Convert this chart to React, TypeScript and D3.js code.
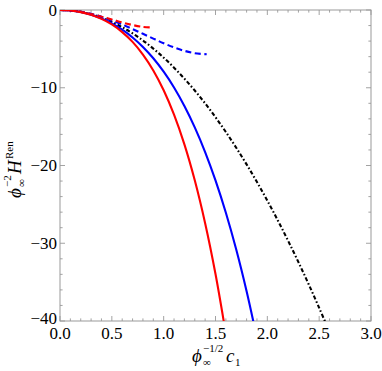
import React from 'react';
import * as d3 from 'd3';

// x grid shared by the curves (phi^-1/2 c1)
const xs = [0, 0.1, 0.2, 0.3, 0.4, 0.5, 0.6, 0.7, 0.8, 0.9, 1.0, 1.1, 1.2, 1.3, 1.4, 1.5, 1.6, 1.7, 1.8, 1.9, 2.0, 2.1, 2.2, 2.3, 2.4, 2.5, 2.6];

const redSolid = [0, -0.065, -0.27, -0.62, -1.14, -1.86, -2.84, -4.1, -5.73, -7.77, -10.32, -13.46, -17.28, -21.9, -27.42, -33.96, -41.67];
const blueSolid = [0, -0.065, -0.26, -0.6, -1.08, -1.72, -2.53, -3.53, -4.75, -6.21, -7.94, -9.97, -12.35, -15.1, -18.27, -21.92, -26.08, -30.81, -36.18, -42.23];
const blackDotDash = [0, -0.061, -0.245, -0.552, -0.98, -1.53, -2.21, -3.0, -3.92, -4.97, -6.13, -7.42, -8.83, -10.36, -12.01, -13.79, -15.69, -17.72, -19.86, -22.13, -24.52, -27.03, -29.67, -32.43, -35.31, -38.31, -41.44];
const redDashedX = [0, 0.1, 0.2, 0.3, 0.4, 0.5, 0.6, 0.7, 0.8, 0.868];
const redDashed = [0, -0.06, -0.234, -0.51, -0.86, -1.22, -1.6, -1.93, -2.17, -2.23];
const blueDashedX = [0, 0.1, 0.2, 0.3, 0.4, 0.5, 0.6, 0.7, 0.8, 0.9, 1.0, 1.1, 1.2, 1.3, 1.415];
const blueDashed = [0, -0.057, -0.226, -0.5, -0.88, -1.34, -1.87, -2.45, -3.06, -3.68, -4.28, -4.81, -5.25, -5.56, -5.7];

const xMajor = [0, 0.5, 1.0, 1.5, 2.0, 2.5, 3.0];
const yMajor = [0, -10, -20, -30, -40];

const W = 382;
const H = 371;
const margin = { top: 10, right: 11, bottom: 50, left: 60 };
const FONT = 'Liberation Serif';

export default function App() {
  const x = d3.scaleLinear().domain([0, 3]).range([margin.left, W - margin.right]);
  const y = d3.scaleLinear().domain([-40, 0]).range([H - margin.bottom, margin.top]);

  const line = d3.line<[number, number]>()
    .x(d => x(d[0]))
    .y(d => y(d[1]))
    .curve(d3.curveCatmullRom);

  const zip = (a: number[], b: number[]) => b.map((v, i) => [a[i], v] as [number, number]);

  const series = [
    { pts: zip(xs, blackDotDash), color: '#000', dash: '4,2.2,1.6,2.2' },
    { pts: zip(blueDashedX, blueDashed), color: '#0000ff', dash: '6,3.5' },
    { pts: zip(redDashedX, redDashed), color: '#ff0000', dash: '6,3.5' },
    { pts: zip(xs, blueSolid), color: '#0000ff', dash: null },
    { pts: zip(xs, redSolid), color: '#ff0000', dash: null },
  ];

  const xMinor = d3.range(0, 31).map(i => i / 10).filter(v => !xMajor.some(m => Math.abs(m - v) < 1e-9));
  const yMinor = d3.range(-40, 1, 2).filter(v => v % 10 !== 0);

  const x0 = margin.left;
  const x1 = W - margin.right;
  const y0 = H - margin.bottom;
  const y1 = margin.top;
  const tickColor = '#999';
  const majLen = 5;
  const minLen = 2.6;

  return (
    <svg width={W} height={H} style={{ position: 'absolute', left: 0, top: 0 }} fontFamily={FONT}>
      <defs>
        <clipPath id="plot">
          <rect x={x0} y={y1} width={x1 - x0} height={y0 - y1} />
        </clipPath>
      </defs>

      {/* frame */}
      <rect x={x0} y={y1} width={x1 - x0} height={y0 - y1} fill="none" stroke={tickColor} strokeWidth={1} />

      {/* ticks, inward on all four sides */}
      <g stroke={tickColor} strokeWidth={0.9}>
        {xMajor.map(v => (
          <g key={'xM' + v}>
            <line x1={x(v)} x2={x(v)} y1={y0} y2={y0 - majLen} />
            <line x1={x(v)} x2={x(v)} y1={y1} y2={y1 + majLen} />
          </g>
        ))}
        {xMinor.map(v => (
          <g key={'xm' + v}>
            <line x1={x(v)} x2={x(v)} y1={y0} y2={y0 - minLen} />
            <line x1={x(v)} x2={x(v)} y1={y1} y2={y1 + minLen} />
          </g>
        ))}
        {yMajor.map(v => (
          <g key={'yM' + v}>
            <line x1={x0} x2={x0 + majLen} y1={y(v)} y2={y(v)} />
            <line x1={x1} x2={x1 - majLen} y1={y(v)} y2={y(v)} />
          </g>
        ))}
        {yMinor.map(v => (
          <g key={'ym' + v}>
            <line x1={x0} x2={x0 + minLen} y1={y(v)} y2={y(v)} />
            <line x1={x1} x2={x1 - minLen} y1={y(v)} y2={y(v)} />
          </g>
        ))}
      </g>

      {/* curves */}
      <g clipPath="url(#plot)" fill="none">
        {series.map((s, i) => (
          <path key={i} d={line(s.pts) || ''} stroke={s.color} strokeWidth={2.1}
            strokeDasharray={s.dash || undefined} />
        ))}
      </g>

      {/* tick labels */}
      <g fontSize={17} fill="#000" fontFamily={FONT}>
        {xMajor.map(v => (
          <text key={'xl' + v} x={x(v)} y={y0 + 18} textAnchor="middle">{v.toFixed(1)}</text>
        ))}
        {yMajor.map(v => (
          <text key={'yl' + v} x={x0 - 3} y={y(v) + (v === -40 ? 3 : 5.5)} textAnchor="end">
            {v === 0 ? '0' : '\u2212' + Math.abs(v)}
          </text>
        ))}
      </g>

      {/* x axis label */}
      <g fill="#000" fontFamily={FONT}>
        <text x={192} y={362} fontSize={19} fontStyle="italic">ϕ</text>
        <text x={203} y={366} fontSize={11}>∞</text>
        <text x={203} y={352} fontSize={11}>−1/2</text>
        <text x={226} y={362} fontSize={19} fontStyle="italic">c</text>
        <text x={235} y={366} fontSize={11}>1</text>
      </g>

      {/* y axis label */}
      <g fill="#000" fontFamily={FONT} transform="translate(21,198) rotate(-90)">
        <text x={0} y={0} fontSize={19} fontStyle="italic">ϕ</text>
        <text x={11} y={4} fontSize={11}>∞</text>
        <text x={11} y={-10} fontSize={11}>−2</text>
        <text x={24} y={0} fontSize={19} fontStyle="italic">H</text>
        <text x={39} y={-8} fontSize={11}>Ren</text>
      </g>
    </svg>
  );
}
